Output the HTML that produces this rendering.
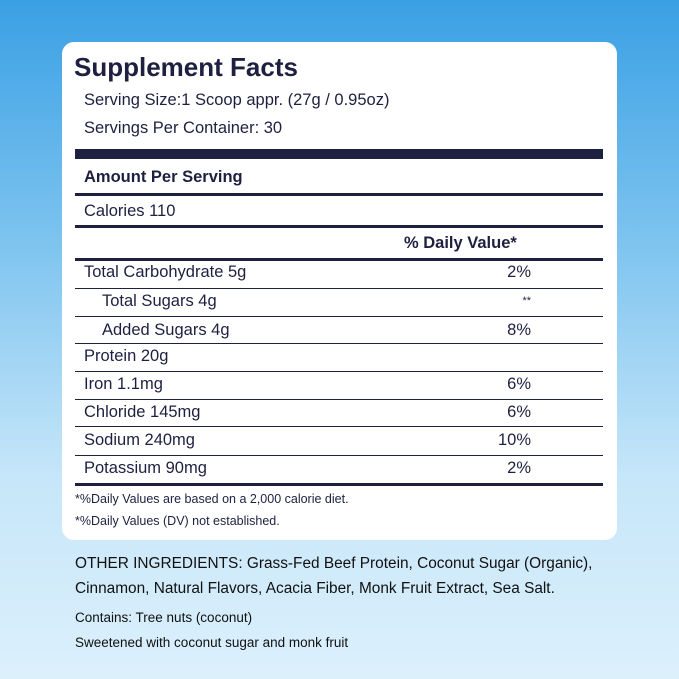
<!DOCTYPE html>
<html><head><style>
body{margin:0;width:679px;height:679px;overflow:hidden;font-family:"Liberation Sans",sans-serif;color:#1e2040;background:linear-gradient(180deg,#3aa0e4 0%,#7cc3ef 35%,#c6e6f9 70%,#dcf0fc 100%);position:relative}
.card{position:absolute;left:62px;top:42px;width:555px;height:498px;background:#fff;border-radius:12px}
.t{position:absolute;white-space:nowrap;font-size:16.5px;line-height:20px}
.r{position:absolute;white-space:nowrap;font-size:16.5px;line-height:20px;right:148px;text-align:right}
.l{position:absolute;left:75px;width:528px;background:#1e2040}
</style></head><body>
<div class="card"></div>
<div class="t" style="left:74px;top:52px;font-size:26px;line-height:30px;font-weight:bold">Supplement Facts</div>
<div class="t" style="left:84px;top:90px">Serving Size:1 Scoop appr. (27g / 0.95oz)</div>
<div class="t" style="left:84px;top:118px">Servings Per Container: 30</div>
<div class="l" style="top:149px;height:10px"></div>
<div class="t" style="left:84px;top:167px;font-weight:bold">Amount Per Serving</div>
<div class="l" style="top:193px;height:3px"></div>
<div class="t" style="left:84px;top:201px">Calories 110</div>
<div class="l" style="top:225px;height:3px"></div>
<div class="t" style="left:404px;top:233px;font-weight:bold">% Daily Value*</div>
<div class="l" style="top:258px;height:3px"></div>
<div class="t" style="left:84px;top:262px">Total Carbohydrate 5g</div><div class="r" style="top:262px">2%</div>
<div class="l" style="top:288px;height:1px"></div>
<div class="t" style="left:102px;top:291px">Total Sugars 4g</div><div class="r" style="top:291px;font-size:11px">**</div>
<div class="l" style="top:316px;height:1px"></div>
<div class="t" style="left:102px;top:320px">Added Sugars 4g</div><div class="r" style="top:320px">8%</div>
<div class="l" style="top:343px;height:1px"></div>
<div class="t" style="left:84px;top:346px">Protein 20g</div>
<div class="l" style="top:371px;height:1px"></div>
<div class="t" style="left:84px;top:374px">Iron 1.1mg</div><div class="r" style="top:374px">6%</div>
<div class="l" style="top:399px;height:1px"></div>
<div class="t" style="left:84px;top:402px">Chloride 145mg</div><div class="r" style="top:402px">6%</div>
<div class="l" style="top:426px;height:1px"></div>
<div class="t" style="left:84px;top:430px">Sodium 240mg</div><div class="r" style="top:430px">10%</div>
<div class="l" style="top:455px;height:1px"></div>
<div class="t" style="left:84px;top:458px">Potassium 90mg</div><div class="r" style="top:458px">2%</div>
<div class="l" style="top:483px;height:3px"></div>
<div class="t" style="left:75px;top:489px;font-size:12.5px">*%Daily Values are based on a 2,000 calorie diet.</div>
<div class="t" style="left:75px;top:511px;font-size:12.5px">*%Daily Values (DV) not established.</div>
<div class="t" style="left:75px;top:554px;font-size:15.4px;color:#111">OTHER INGREDIENTS: Grass-Fed Beef Protein, Coconut Sugar (Organic),</div>
<div class="t" style="left:75px;top:579px;font-size:15.4px;color:#111">Cinnamon, Natural Flavors, Acacia Fiber, Monk Fruit Extract, Sea Salt.</div>
<div class="t" style="left:75px;top:608px;font-size:13.5px;color:#111">Contains: Tree nuts (coconut)</div>
<div class="t" style="left:75px;top:633px;font-size:13.5px;color:#111">Sweetened with coconut sugar and monk fruit</div>
</body></html>
